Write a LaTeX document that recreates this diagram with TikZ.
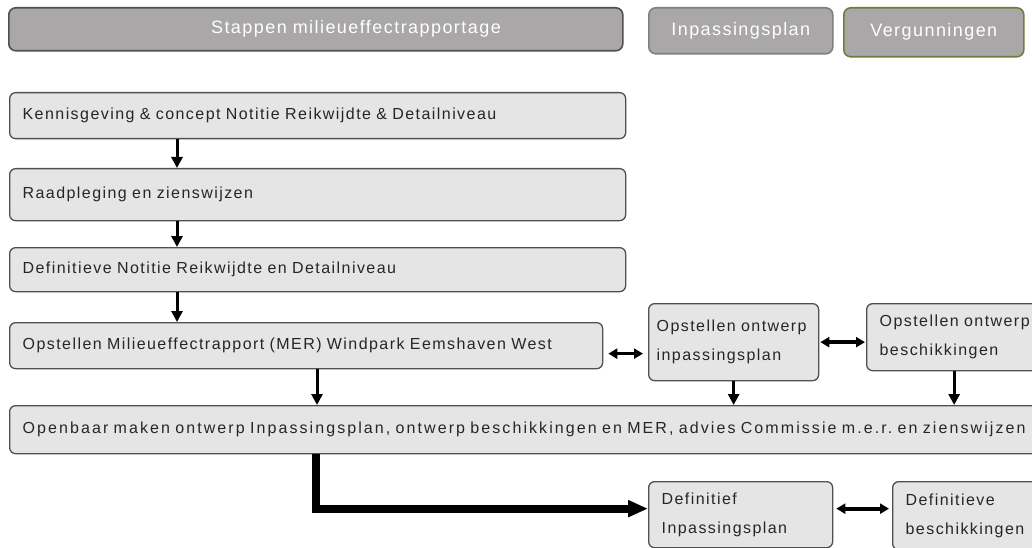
\documentclass[tikz,border=0pt]{standalone}
\usepackage{fontspec}
\setmainfont{Liberation Sans}
\newfontfamily\kopfont[LetterSpace=8]{Liberation Sans}
\newfontfamily\stapfont[LetterSpace=9]{Liberation Sans}
\newfontfamily\breedfont[LetterSpace=13]{Liberation Sans}
\usetikzlibrary{arrows.meta}
\definecolor{kopgrijs}{HTML}{A9A7A7}
\definecolor{vakgrijs}{HTML}{E5E5E5}
\definecolor{randgrijs}{HTML}{505050}
\definecolor{olijf}{HTML}{6E7F3C}
\frenchspacing
\tikzset{kop/.style={draw=randgrijs,fill=kopgrijs,line width=1.6pt,rounded corners=7pt,anchor=north west,text=white,font=\kopfont\fontsize{18}{20}\selectfont}}
\tikzset{stap/.style={draw=randgrijs,fill=vakgrijs,line width=1.3pt,rounded corners=6pt,anchor=north west,align=left,inner xsep=13pt,inner ysep=0pt,text=black!85,font=\stapfont\fontsize{16}{29}\selectfont}}
\tikzset{pijl/.style={line width=3pt,-{Triangle[length=11pt,width=11pt]}}}
\tikzset{dubbel/.style={line width=3pt,{Triangle[length=9pt,width=10pt]}-{Triangle[length=9pt,width=10pt]},shorten >=5pt,shorten <=5pt}}

\begin{document}
\begin{tikzpicture}[%
		x = 1pt, y = -1pt, % pixel grid
		]
		\clip (0,0) rectangle (1032,548);
		
		% Kopjes
		\node[kop, minimum height=43pt, inner xsep=122pt, text width=370pt, align=right] (hmer) at (8,7) {Stappen milieueffectrapportage};
		\node[kop, draw=gray, minimum width=184pt, minimum height=46pt] (hinp) at (648,7) {Inpassingsplan};
		\node[kop, draw=olijf, minimum width=180pt, minimum height=49pt] (hverg) at (843,7) {Vergunningen};
		
		% Stappen
		\node[stap, text width=590pt, minimum height=46pt] (kennis) at (9,92) {Kennisgeving \& concept Notitie Reikwijdte \& Detailniveau};
		\node[stap, text width=590pt, minimum height=52pt] (raad) at (9,168) {Raadpleging en zienswijzen};
		\node[stap, text width=590pt, minimum height=44pt] (defnot) at (9,247) {Definitieve Notitie Reikwijdte en Detailniveau};
		\node[stap, text width=567pt, minimum height=46pt] (mer) at (9,322) {Opstellen Milieueffectrapport (MER) Windpark Eemshaven West};
		\node[stap, inner xsep=8pt, text width=154pt, minimum height=77pt] (ontinp) at (648,303) {Opstellen ontwerp\\inpassingsplan};
		\node[stap, text width=149pt, minimum height=67pt] (ontbes) at (866,303) {Opstellen ontwerp\\beschikkingen};
		\node[stap, font=\breedfont\fontsize{16}{29}\selectfont, text width=1004pt, minimum height=48pt] (openb) at (9,405) {Openbaar maken ontwerp Inpassingsplan, ontwerp beschikkingen en MER, advies Commissie m.e.r. en zienswijzen};
		\node[stap, text width=158pt, minimum height=66pt] (definp) at (648,481) {Definitief\\Inpassingsplan};
		\node[stap, text width=124pt, minimum height=68pt] (defbes) at (892,481) {Definitieve\\beschikkingen};
		
		% Volgorde
		\draw[pijl] ([xshift=168pt]kennis.south west) -- ([xshift=168pt]raad.north west);
		\draw[pijl] ([xshift=168pt]raad.south west) -- ([xshift=168pt]defnot.north west);
		\draw[pijl] ([xshift=168pt]defnot.south west) -- ([xshift=168pt]mer.north west);
		\draw[pijl] ([xshift=308pt]mer.south west) -- ([xshift=308pt]openb.north west);
		\draw[pijl] (ontinp.south) -- (ontinp.south |- openb.north);
		\draw[pijl] (ontbes.south) -- (ontbes.south |- openb.north);
		
		% Afstemming
		\draw[dubbel] ([yshift=-8pt]mer.east) -- ([yshift=-11.5pt]ontinp.west);
		\draw[dubbel, line width=4pt, shorten >=1pt, shorten <=1pt] (ontinp.east) -- (ontinp.east -| ontbes.west);
		
		% Vaststelling
		\draw[line width=8pt, -{Triangle[length=20pt,width=16pt]}] ([xshift=307pt]openb.south west) |- ([yshift=6pt]definp.west);
		\draw[dubbel, line width=4pt, shorten >=3pt, shorten <=3pt] ([yshift=6pt]definp.east) -- ([yshift=7pt]defbes.west);
\end{tikzpicture}
\end{document}
